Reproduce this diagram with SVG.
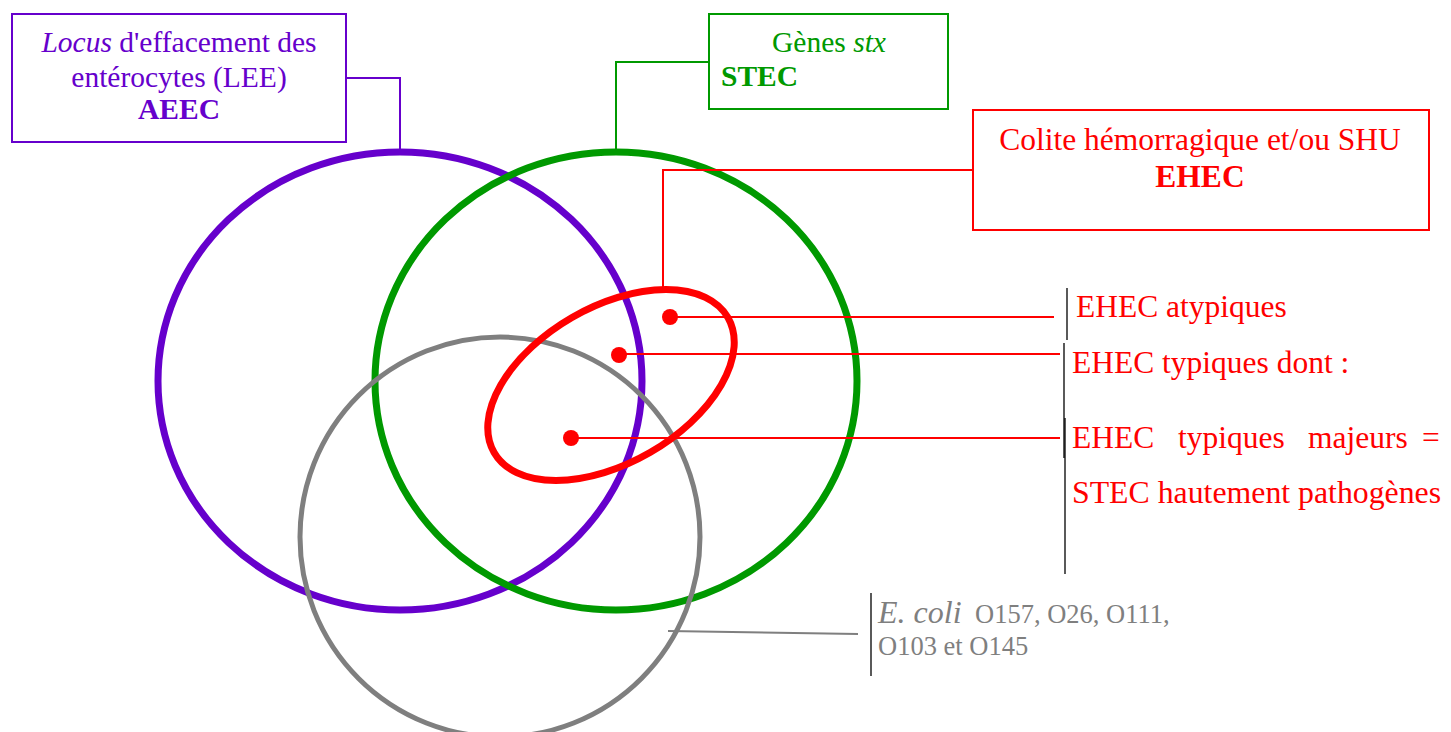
<svg xmlns="http://www.w3.org/2000/svg" width="1451" height="732" viewBox="0 0 1451 732">
  <style>
    text { font-family: "Liberation Serif", "Times New Roman", serif; }
    .box { fill: #ffffff; stroke-width: 2; }
    .ring { fill: none; stroke-width: 7; }
    .purple { fill: #6600cc; }
    .green { fill: #009900; }
    .red { fill: #ff0000; }
    .gray { fill: #7f7f7f; }
    .b { font-weight: bold; }
    .i { font-style: italic; }
  </style>
  <rect width="1451" height="732" fill="#ffffff"/>

  <!-- Set rings -->
  <g id="ring-aeec"><ellipse class="ring" cx="400" cy="381" rx="242" ry="229" stroke="#6600cc"/></g>
  <g id="ring-stec"><ellipse class="ring" cx="616" cy="381" rx="241" ry="229" stroke="#009900"/></g>
  <g id="ring-serogroups"><circle cx="500" cy="537" r="200" fill="none" stroke="#7f7f7f" stroke-width="5"/></g>
  <g id="ring-ehec"><ellipse class="ring" cx="611" cy="385" rx="135" ry="78" transform="rotate(-30 611 385)" stroke="#ff0000"/></g>

  <!-- Connectors -->
  <g id="connectors" fill="none" stroke-width="2">
    <polyline points="346,78 400,78 400,152" stroke="#6600cc"/>
    <polyline points="709,62 616,62 616,152" stroke="#009900"/>
    <polyline points="663,290 663,170 973,170" stroke="#ff0000"/>
    <line x1="670" y1="317" x2="1054" y2="317" stroke="#ff0000"/>
    <line x1="619" y1="354" x2="1060" y2="354" stroke="#ff0000"/>
    <line x1="571" y1="438" x2="1060" y2="438" stroke="#ff0000"/>
    <line x1="668" y1="631" x2="858" y2="634" stroke="#7f7f7f"/>
    <line x1="1067" y1="288" x2="1067" y2="340" stroke="#000000" stroke-width="1.3"/>
    <line x1="1064" y1="343" x2="1064" y2="458" stroke="#000000" stroke-width="1.3"/>
    <line x1="1065" y1="418" x2="1065" y2="574" stroke="#000000" stroke-width="1.3"/>
    <line x1="871" y1="593" x2="871" y2="676" stroke="#000000" stroke-width="1.3"/>
  </g>

  <!-- Points in the EHEC ring -->
  <g id="dots" fill="#ff0000">
    <circle cx="670" cy="317" r="8"/>
    <circle cx="619" cy="355" r="8"/>
    <circle cx="571" cy="438" r="8"/>
  </g>

  <!-- Label boxes -->
  <g id="node-aeec">
    <rect class="box" x="12" y="14" width="334" height="128" stroke="#6600cc"/>
    <text class="purple" x="179" y="52" font-size="29.5" text-anchor="middle"><tspan class="i">Locus</tspan> d'effacement des</text>
    <text class="purple" x="179" y="87" font-size="29.5" text-anchor="middle">entérocytes (LEE)</text>
    <text class="purple b" x="179" y="119" font-size="29.5" text-anchor="middle">AEEC</text>
  </g>
  <g id="node-stec">
    <rect class="box" x="709" y="14" width="239" height="95" stroke="#009900"/>
    <text class="green" x="829" y="52" font-size="29.5" text-anchor="middle">Gènes <tspan class="i">stx</tspan></text>
    <text class="green b" x="721" y="86" font-size="29.5">STEC</text>
  </g>
  <g id="node-ehec">
    <rect class="box" x="973" y="110" width="456" height="120" stroke="#ff0000"/>
    <text class="red" x="1200" y="150" font-size="31.5" text-anchor="middle">Colite hémorragique et/ou SHU</text>
    <text class="red b" x="1200" y="187" font-size="31.5" text-anchor="middle">EHEC</text>
  </g>

  <!-- Side labels -->
  <g id="label-atypical">
    <text class="red" x="1076" y="317" font-size="31.5">EHEC atypiques</text>
  </g>
  <g id="label-typical">
    <text class="red" x="1072" y="373" font-size="31.5">EHEC typiques dont :</text>
    <text class="red" font-size="31.5" y="448"><tspan x="1072">EHEC</tspan><tspan x="1178">typiques</tspan><tspan x="1308">majeurs</tspan><tspan x="1422">=</tspan></text>
    <text class="red" x="1072" y="503" font-size="31.8">STEC hautement pathogènes</text>
  </g>
  <g id="label-serogroups">
    <text class="gray" y="623" font-size="26.5"><tspan class="i" x="878" font-size="32">E. coli</tspan><tspan x="975">O157, O26, O111,</tspan></text>
    <text class="gray" x="878" y="655" font-size="26.5">O103 et O145</text>
  </g>
</svg>
